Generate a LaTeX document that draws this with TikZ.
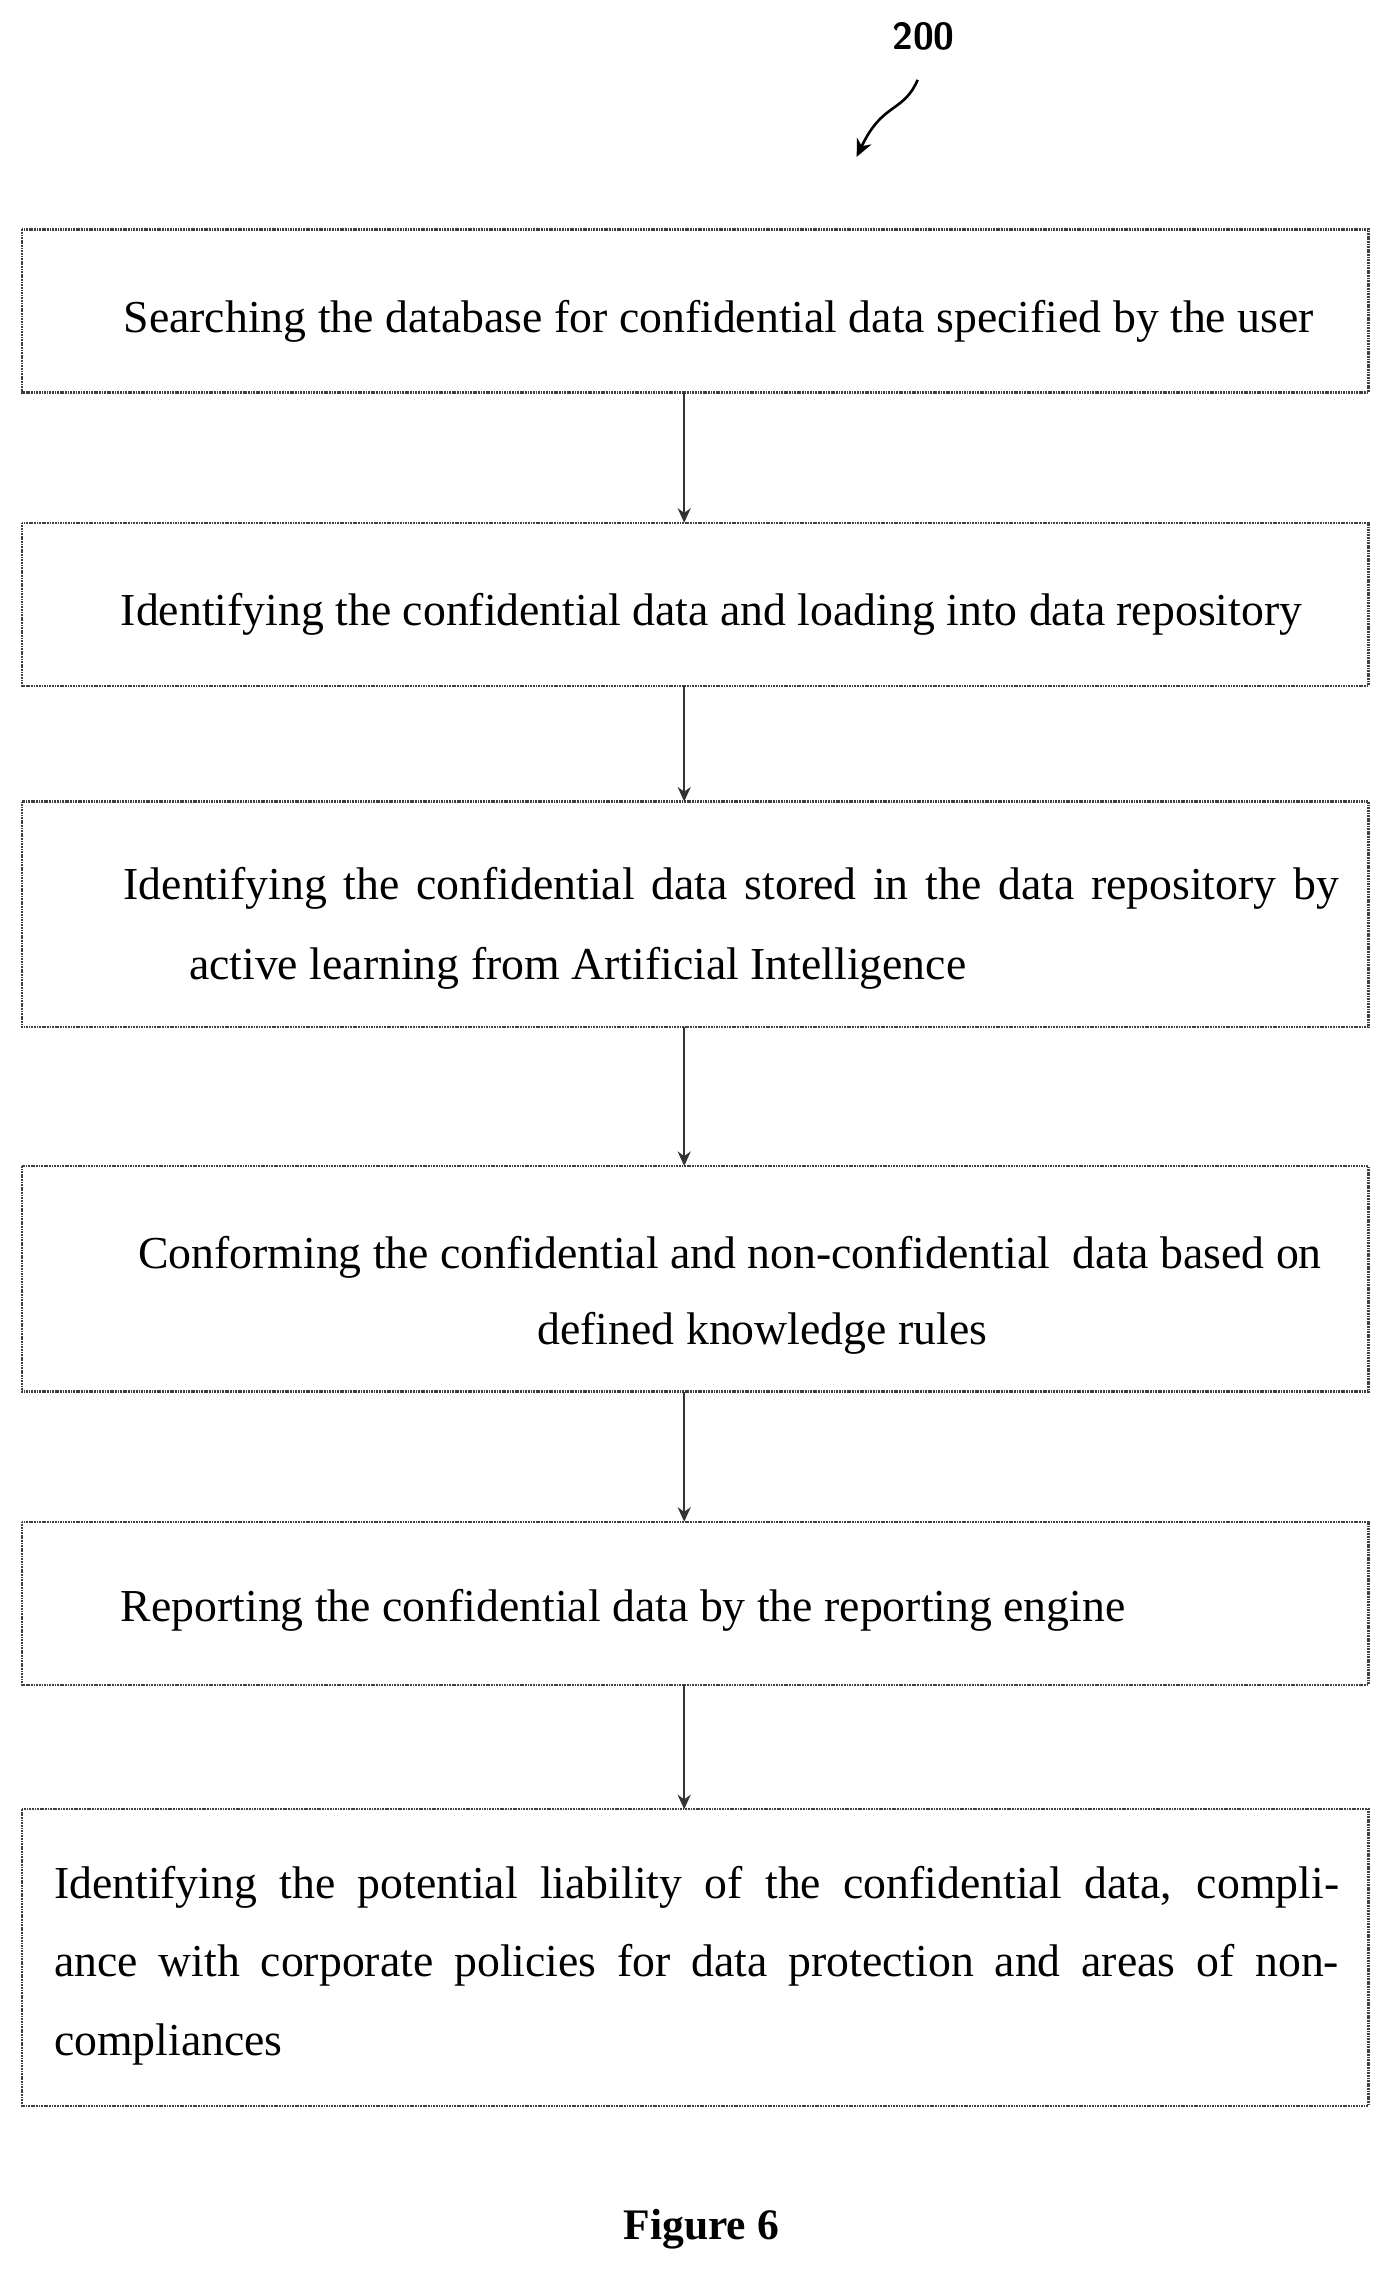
\documentclass[tikz,border=0pt]{standalone}
\usepackage{fontspec}
\setmainfont{Liberation Serif}
\usetikzlibrary{arrows.meta}
\begin{document}
\begin{tikzpicture}[x=1pt,y=-1pt,
  box/.style={draw=black!75,line width=1.6pt,dash pattern=on 1.2pt off 0.6pt},
  txt/.style={font=\fontsize{31.5}{54}\selectfont,inner sep=0pt,anchor=west},
  arr/.style={draw=black!80,line width=1.3pt,-{Stealth[length=10pt,width=9pt]}}]
\useasboundingbox (0,0) rectangle (960,1573);
\node[font=\sffamily\bfseries\fontsize{26}{30}\selectfont] (n200) at (636,25) {200};
\coordinate (s1) at (632,55);
\coordinate (s2) at (590,108);
\draw[line width=1.8pt,-{Stealth[length=12pt,width=11pt]}] (s1) .. controls (622,78) and (608,70) .. (s2);
\node[minimum width=927,minimum height=112,anchor=north west] (b1) at (15,158) {};
\node[minimum width=927,minimum height=112,anchor=north west] (b2) at (15,360) {};
\node[minimum width=927,minimum height=155,anchor=north west] (b3) at (15,552) {};
\node[minimum width=927,minimum height=155,anchor=north west] (b4) at (15,803) {};
\node[minimum width=927,minimum height=112,anchor=north west] (b5) at (15,1048) {};
\node[minimum width=927,minimum height=204,anchor=north west] (b6) at (15,1246) {};
\foreach \b in {b1,b2,b3,b4,b5,b6}{\draw[box] (\b.north west) rectangle (\b.south east);}
\node[txt] (t1) at (85,221) {Searching the database for confidential data specified by the user};
\node[txt] (t2) at (83,423) {Identifying the confidential data and loading into data repository};
\node[txt] (t3a) at (85,612) {\makebox[837pt][s]{Identifying the confidential data stored in the data repository by}};
\node[txt] (t3b) at (130,667) {active learning from Artificial Intelligence};
\node[txt] (t4a) at (95,866) {\makebox[815pt][s]{Conforming the confidential and non-confidential\ \ data based on}};
\node[txt] (t4b) at (370,918) {defined knowledge rules};
\node[txt] (t5) at (83,1109) {Reporting the confidential data by the reporting engine};
\node[txt,anchor=north west,text width=885pt,align=justify] (t6) at (37,1285) {\hyphenpenalty=10000 Identifying the potential liability of the confidential data, compliance with corporate policies for data protection and areas of non-\linebreak compliances};
\draw[arr] ([xshift=-7.5pt]b1.south) -- ([xshift=-7.5pt]b2.north);
\draw[arr] ([xshift=-7.5pt]b2.south) -- ([xshift=-7.5pt]b3.north);
\draw[arr] ([xshift=-7.5pt]b3.south) -- ([xshift=-7.5pt]b4.north);
\draw[arr] ([xshift=-7.5pt]b4.south) -- ([xshift=-7.5pt]b5.north);
\draw[arr] ([xshift=-7.5pt]b5.south) -- ([xshift=-7.5pt]b6.north);
\node[font=\bfseries\fontsize{30}{36}\selectfont] (fig) at (483,1535) {Figure 6};
\end{tikzpicture}
\end{document}
